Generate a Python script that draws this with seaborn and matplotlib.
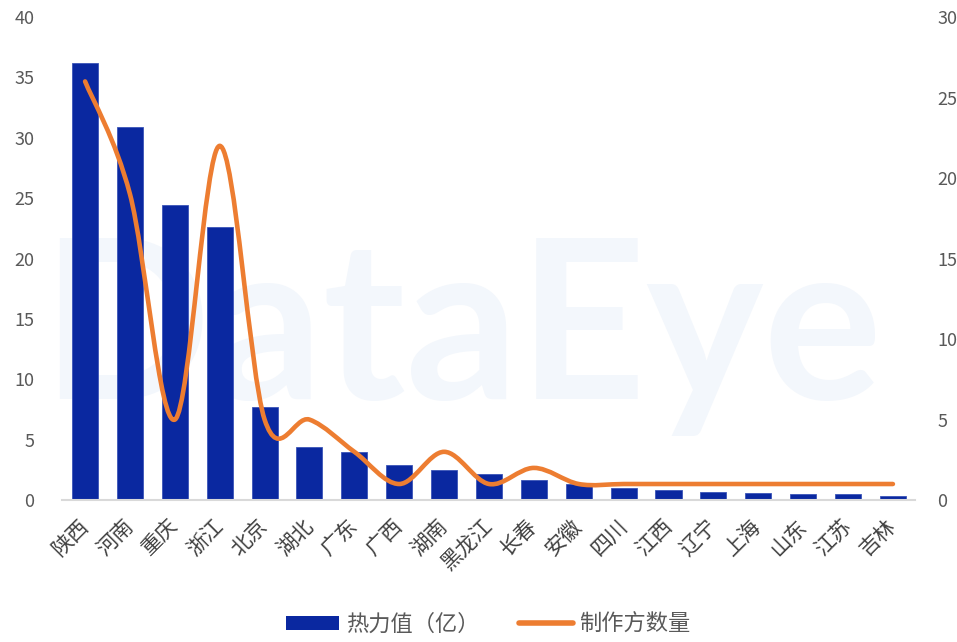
import matplotlib as mpl
import numpy as np
import pandas as pd
import seaborn as sns
import matplotlib.pyplot as plt
from matplotlib.path import Path
from matplotlib.patches import PathPatch, Patch
from matplotlib.lines import Line2D

sns.set_style('white')
plt.rcParams['font.family'] = ['Noto Sans CJK SC', 'DejaVu Sans']

regions = ['陕西', '河南', '重庆', '浙江', '北京', '湖北', '广东', '广西', '湖南', '黑龙江',
           '长春', '安徽', '四川', '江西', '辽宁', '上海', '山东', '江苏', '吉林']
heat = [36.2, 30.9, 24.4, 22.6, 7.7, 4.4, 4.0, 2.9, 2.5, 2.2,
        1.7, 1.3, 1.0, 0.83, 0.69, 0.63, 0.5, 0.47, 0.33]
makers = [26, 19, 5, 22, 5, 5, 3, 1, 3, 1, 2, 1, 1, 1, 1, 1, 1, 1, 1]

blue = '#0A28A0'
orange = '#ED7D31'

df = pd.DataFrame({'region': regions, 'heat': heat, 'makers': makers})

fig = plt.figure(figsize=(9.57, 6.42), dpi=100)

# faint watermark behind everything
fig.text(0.482, 0.378, 'DataEye', fontsize=160, color='#f3f7fc', family='Lato',
         fontweight='bold', ha='center', va='baseline', zorder=-5)

ax = fig.add_axes([0.065, 0.221, 0.891, 0.7525])
ax.set_facecolor('none')

sns.barplot(data=df, x='region', y='heat', color=blue, width=0.58, saturation=1,
            edgecolor='#3b54b8', linewidth=0.6, ax=ax)
ax.set_ylim(0, 40)
ax.set_xlim(-0.51, len(regions) - 0.51)
ax.set_yticks(range(0, 41, 5))
ax.set_xlabel('')
ax.set_ylabel('')

ax2 = ax.twinx()
ax2.set_ylim(0, 30)
ax2.set_yticks(range(0, 31, 5))

# smoothed line (catmull-rom as cubic bezier, like a smoothed office chart)
xs = np.arange(len(makers), dtype=float)
ys = np.array(makers, dtype=float)
px = np.concatenate([[xs[0]], xs, [xs[-1]]])
py = np.concatenate([[ys[0]], ys, [ys[-1]]])
verts = [(xs[0], ys[0])]
codes = [Path.MOVETO]
for i in range(1, len(xs)):
    p0 = np.array([px[i - 1], py[i - 1]])
    p1 = np.array([px[i], py[i]])
    p2 = np.array([px[i + 1], py[i + 1]])
    p3 = np.array([px[i + 2], py[i + 2]])
    c1 = p1 + (p2 - p0) / 6
    c2 = p2 - (p3 - p1) / 6
    verts += [tuple(c1), tuple(c2), tuple(p2)]
    codes += [Path.CURVE4] * 3
ax2.add_patch(PathPatch(Path(verts, codes), facecolor='none', edgecolor=orange,
                        lw=3.3, capstyle='round', joinstyle='round'))

for a in (ax, ax2):
    for s in a.spines.values():
        s.set_visible(False)
    a.tick_params(length=0)
ax.spines['bottom'].set_visible(True)
ax.spines['bottom'].set_color('#d9d9d9')
ax.spines['bottom'].set_linewidth(1.5)

ax.tick_params(axis='y', labelsize=13, labelcolor='#595959', pad=20)
ax2.tick_params(axis='y', labelsize=13, labelcolor='#595959', pad=16)
ax.tick_params(axis='x', labelsize=15, labelcolor='#404040', pad=16)
for lab in ax.get_xticklabels():
    lab.set_rotation(45)
    lab.set_rotation_mode('anchor')
    lab.set_ha('right')
    lab.set_va('center')

handles = [Patch(facecolor=blue, edgecolor='none'),
           Line2D([0], [0], color=orange, lw=4, solid_capstyle='round')]
fig.legend(handles, ['热力值（亿）', '制作方数量'], loc='center', ncol=2,
           bbox_to_anchor=(0.51, 0.028), frameon=False, fontsize=16,
           handlelength=2.4, handleheight=0.6, handletextpad=0.3,
           columnspacing=1.8, labelcolor='#595959')

plt.savefig('out.png', dpi=100, facecolor='w')
